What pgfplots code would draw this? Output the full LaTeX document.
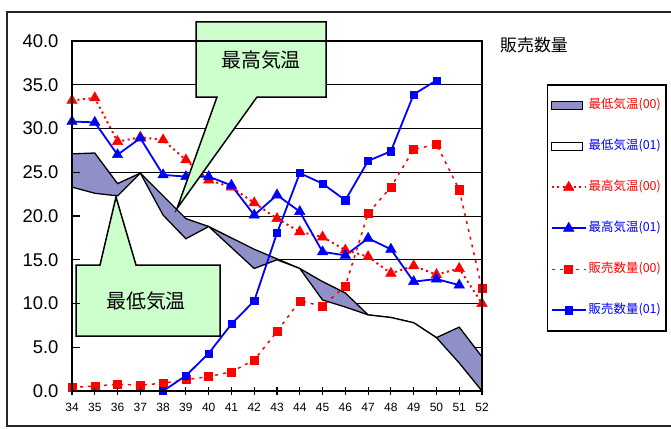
\documentclass[border=0pt]{standalone}
\usepackage{fontspec}
\setmainfont{Liberation Sans}
\newfontfamily\jp{Noto Sans CJK JP}
\usepackage{pgfplots}
\pgfplotsset{compat=1.18}
\definecolor{lav}{RGB}{144,144,200}
\definecolor{callg}{RGB}{204,255,204}
\pgfplotsset{
  layers/gridbelow/.define layer set={axis background,axis grid,main,axis ticks,axis lines,axis tick labels,axis descriptions,axis foreground}{/pgfplots/layers/standard},
  lineleg/.style={legend image code/.code={\draw[mark repeat=2,mark phase=2,##1] plot coordinates {(0bp,0bp) (17bp,0bp) (34bp,0bp)};}},
  arealeg/.style={legend image code/.code={\draw[##1,line width=1.3bp] (0bp,-4bp) rectangle (31bp,4bp);}},
}
\begin{document}
\begin{tikzpicture}[x=1bp,y=1bp]
\draw[line width=1.5bp, black!85] (7,2) rectangle (690,416);
\begin{axis}[
  set layers=gridbelow,
  at={(72bp,37bp)}, anchor=south west,
  scale only axis, width=410bp, height=350bp,
  clip=false,
  xmin=34, xmax=52, ymin=0, ymax=40,
  xtick={34,...,52}, ytick={0,5,...,40},
  ymajorgrids, grid style={black, line width=1bp},
  axis line style={black, line width=1.5bp},
  tick pos=left, tick align=inside, major tick length=8bp,
  tick style={black, line width=1.2bp},
  xtick style={yshift=-4bp},
  yticklabel style={font=\fontsize{18.5}{18.5}\selectfont, xshift=-10bp,
    /pgf/number format/fixed, /pgf/number format/fixed zerofill,
    /pgf/number format/precision=1, /pgf/number format/assume math mode=true},
  xticklabel style={font=\fontsize{12}{12}\selectfont, yshift=-9bp,
    /pgf/number format/assume math mode=true},
  legend style={at={(1.1585,0.8771)}, anchor=north west, draw=black, line width=1.5bp,
    fill=white, inner xsep=3bp, inner ysep=13bp, row sep=26bp,
    font=\jp\fontsize{12.5}{12.5}\selectfont,
    nodes={inner sep=2bp, text height=9bp, text depth=2bp}},
  legend cell align=left,
]
% 最低気温(00)
\addplot[draw=black, line width=1.3bp, fill=lav, arealeg] coordinates {
(34,27.1) (35,27.2) (36,23.7) (37,24.9) (38,22.3) (39,19.7) (40,18.8) (41,17.5)
(42,16.2) (43,15.1) (44,14.0) (45,12.5) (46,11.2) (47,8.7) (48,8.4) (49,7.8)
(50,6.1) (51,7.3) (52,3.9)} \closedcycle;
\addlegendentry{\textcolor{red}{最低気温(00)}}
% 最低気温(01)
\addplot[draw=black, line width=1.3bp, fill=white, arealeg] coordinates {
(34,23.3) (35,22.6) (36,22.3) (37,24.9) (38,20.1) (39,17.4) (40,18.8) (41,16.4)
(42,14.0) (43,15.0) (44,14.0) (45,10.4) (46,9.6) (47,8.7) (48,8.4) (49,7.8)
(50,6.1) (51,3.2) (52,0)} \closedcycle;
\addlegendentry{\textcolor{blue}{最低気温(01)}}
% 最高気温(00)
\addplot[red, line width=2bp, dash pattern=on 2bp off 3.5bp, mark=triangle*, mark size=6bp,
  mark options={solid, fill=red, draw=red, line width=0.5bp}, lineleg] coordinates {
(34,33.2) (35,33.5) (36,28.5) (37,29.0) (38,28.7) (39,26.4) (40,24.1) (41,23.3)
(42,21.5) (43,19.7) (44,18.2) (45,17.6) (46,16.1) (47,15.35) (48,13.45) (49,14.3)
(50,13.3) (51,14.0) (52,10.0)};
\addlegendentry{\textcolor{red}{最高気温(00)}}
% 最高気温(01)
\addplot[blue, line width=1.8bp, mark=triangle*, mark size=6bp,
  mark options={solid, fill=blue, draw=blue, line width=0.5bp}, lineleg] coordinates {
(34,30.8) (35,30.7) (36,27.0) (37,28.9) (38,24.7) (39,24.5) (40,24.5) (41,23.5)
(42,20.1) (43,22.4) (44,20.5) (45,15.9) (46,15.5) (47,17.45) (48,16.2) (49,12.5)
(50,12.8) (51,12.1)};
\addlegendentry{\textcolor{blue}{最高気温(01)}}
% 販売数量(00)
\addplot[red, line width=1.5bp, dash pattern=on 3bp off 5bp, mark=square*, mark size=4bp,
  mark options={solid, fill=red, draw=red, line width=0.5bp}, lineleg] coordinates {
(34,0.4) (35,0.57) (36,0.76) (37,0.68) (38,0.88) (39,1.3) (40,1.64) (41,2.2)
(42,3.54) (43,6.8) (44,10.3) (45,9.7) (46,12.0) (47,20.3) (48,23.3) (49,27.6)
(50,28.2) (51,23.0) (52,11.7)};
\addlegendentry{\textcolor{red}{販売数量(00)}}
% 販売数量(01)
\addplot[blue, line width=1.8bp, mark=square*, mark size=3.6bp,
  mark options={solid, fill=blue, draw=blue, line width=0.5bp}, lineleg] coordinates {
(38,0) (39,1.75) (40,4.3) (41,7.65) (42,10.3) (43,18.05) (44,24.9) (45,23.7)
(46,21.8) (47,26.3) (48,27.4) (49,33.9) (50,35.5)};
\addlegendentry{\textcolor{blue}{販売数量(01)}}
\draw[black, line width=2.5bp] (axis cs:34,0) -- (axis cs:52,0);
\end{axis}
\node[font=\jp\fontsize{17}{17}\selectfont] at (534,383) {販売数量};
\draw[fill=callg, line width=1.5bp] (196,406) -- (326,406) -- (326,331) -- (257,331)
  -- (177,219.5) -- (217,331) -- (196,331) -- cycle;
\node[font=\jp\fontsize{20}{20}\selectfont] at (261,368) {最高気温};
\draw[fill=callg, line width=1.5bp] (76,163) -- (100,163) -- (116,231) -- (136,163)
  -- (220,163) -- (220,92) -- (76,92) -- cycle;
\node[font=\jp\fontsize{20}{20}\selectfont] at (146,127) {最低気温};
\pgfresetboundingbox
\path[use as bounding box] (0,0) rectangle (671,428);
\end{tikzpicture}
\end{document}
